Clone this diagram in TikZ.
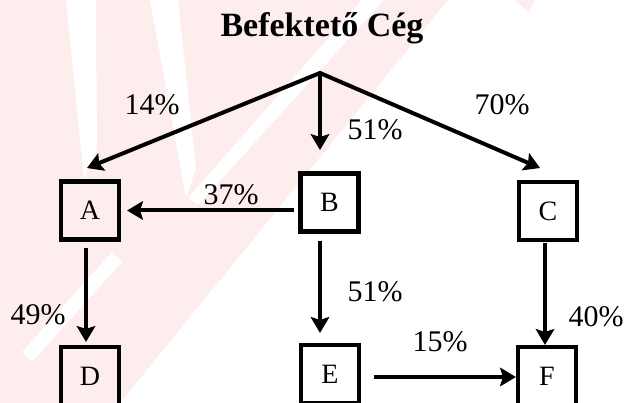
\documentclass[tikz,border=0pt]{standalone}
\usepackage{fontspec}
\setmainfont{Liberation Serif}
\usetikzlibrary{arrows.meta,calc}
\definecolor{wm}{RGB}{253,237,237}
\tikzset{
  box/.style={draw, line width=4.2pt, minimum width=58pt, minimum height=58pt, inner sep=0pt, font=\fontsize{28}{32}\selectfont},
  arr/.style={line width=4pt, -{Stealth[length=16pt,width=19pt,inset=3pt,line width=1.2pt]}},
  both/.style={line width=4pt, line join=miter, {Stealth[length=16pt,width=19pt,inset=3pt,line width=1.2pt]}-{Stealth[length=16pt,width=19pt,inset=3pt,line width=1.2pt]}},
  pct/.style={anchor=base, inner sep=0pt, font=\fontsize{30}{36}\selectfont},
  ttl/.style={anchor=base, inner sep=0pt, font=\fontsize{34}{40}\selectfont\bfseries}
}
\begin{document}
\begin{tikzpicture}[x=1pt,y=-1pt]
\useasboundingbox (0,0) rectangle (630,403);
\clip (0,0) rectangle (630,403);
% watermark
\fill[wm] (0,0) -- (448,0) -- (177,333) -- (120,403) -- (0,403) -- cycle;
\fill[wm] (515,0) -- (535,0) -- (528,12) -- cycle;
\fill[white] (66,0) -- (96,0) -- (97,150) -- (84,178) -- cycle;
\fill[white] (150,0) -- (178,0) -- (196,168) -- (186,198) -- cycle;
\fill[white] (362,0) -- (384,0) -- (198,205) -- (188,198) -- cycle;
\fill[white] (112,252) -- (122,262) -- (32,362) -- (22,352) -- cycle;
% title
\node[ttl] (title) at (322,37) {Befektető Cég};
% boxes
\node[box] (A) at (90,210.5) {A};
\node[box] (B) at (329.5,202.5) {B};
\node[box] (C) at (548,211) {C};
\node[box] (D) at (90,376) {D};
\node[box] (E) at (330,374) {E};
\node[box] (F) at (547,376) {F};
% apex and tips
\coordinate (apex) at (320,73);
\coordinate (tA) at (87,168);
\coordinate (tB) at (320,150);
\coordinate (tC) at (540,168);
\coordinate (efy) at (0,377);
\draw[both] (tA) -- (apex) -- (tC);
\draw[arr] (apex) -- (tB);
% other connectors
\draw[arr, shorten <=4pt, shorten >=6pt] (B.west |- A.east) -- (A.east);
\draw[arr, shorten <=6pt, shorten >=3pt] ([xshift=-4pt]A.south) -- ([xshift=-4pt]D.north);
\draw[arr, shorten <=7pt, shorten >=10pt] ([xshift=-9.5pt]B.south) -- ([xshift=-10pt]E.north);
\draw[arr, shorten <=1pt, shorten >=0pt] ([xshift=-3pt]C.south) -- ([xshift=-2pt]F.north);
\draw[arr, shorten <=13pt, shorten >=0pt] (E.east |- efy) -- (F.west |- efy);
% labels
\node[pct] (l14) at (152,115) {14\%};
\node[pct] (l51a) at (375,140) {51\%};
\node[pct] (l70) at (502,115) {70\%};
\node[pct] (l37) at (231,205) {37\%};
\node[pct] (l49) at (38,325) {49\%};
\node[pct] (l51b) at (375,302) {51\%};
\node[pct] (l40) at (596,327) {40\%};
\node[pct] (l15) at (440,352) {15\%};
\end{tikzpicture}
\end{document}
